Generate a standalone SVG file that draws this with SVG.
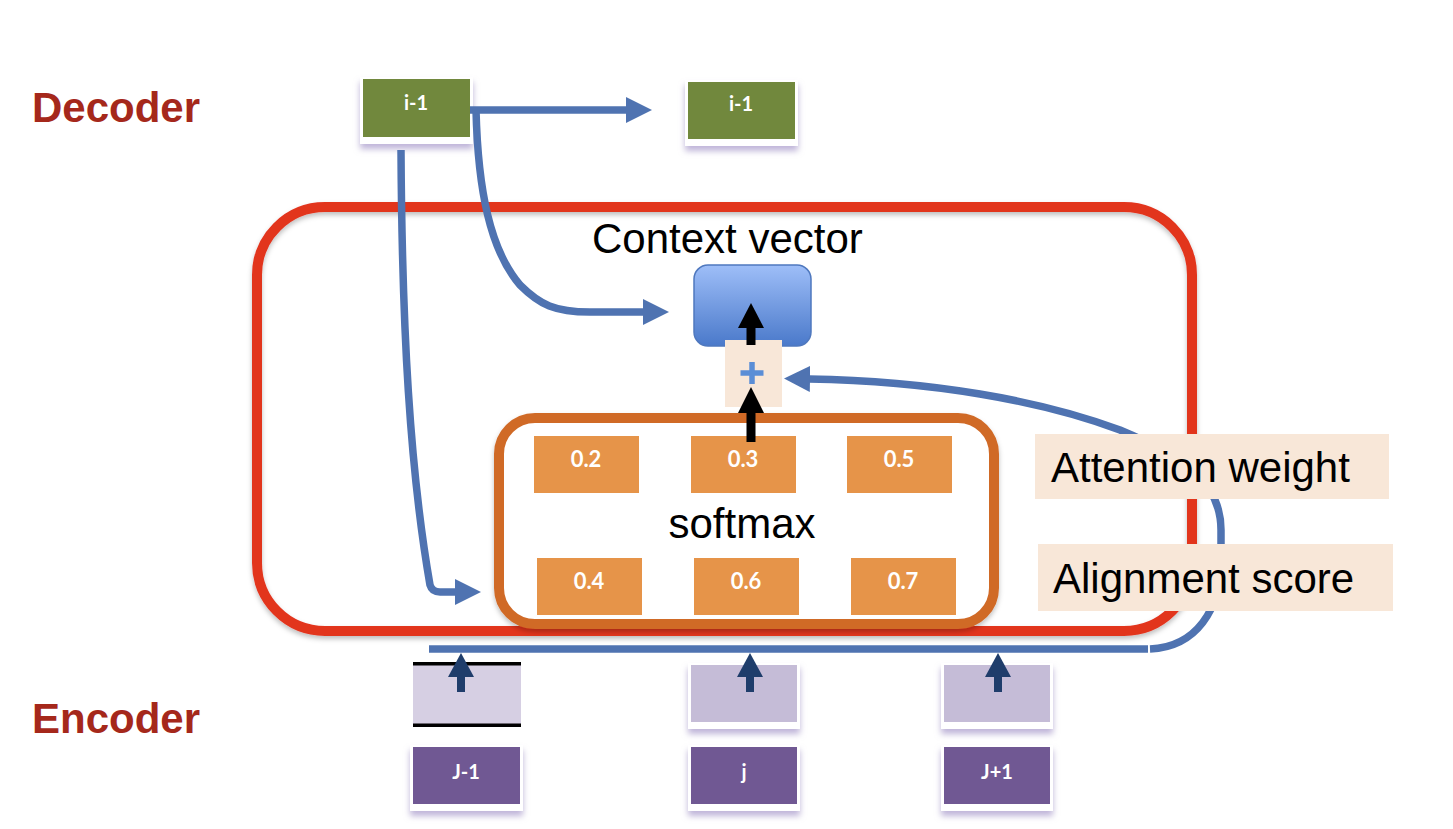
<svg xmlns="http://www.w3.org/2000/svg" width="1453" height="829" viewBox="0 0 1453 829">
  <defs>
    <style>
      .big { font-family: "Liberation Sans", Arial, sans-serif; font-size: 42px; fill: #000; }
      .side { font-family: "Liberation Sans", Arial, sans-serif; font-size: 42px; font-weight: bold; fill: #a5281b; }
      .bx { font-family: Lato, "Open Sans", sans-serif; font-weight: bold; fill: #fff; text-anchor: middle; }
      .blue { fill: none; stroke: #4f73b1; stroke-width: 7.5; }
      .ob { fill: #e69449; }
      .beige { fill: #f8e7d8; }
    </style>
    <filter id="sh" x="-20%" y="-20%" width="140%" height="160%">
      <feDropShadow dx="0" dy="5" stdDeviation="3" flood-color="#a99bcc" flood-opacity="0.75"/>
    </filter>
    <filter id="soft" x="-5%" y="-5%" width="110%" height="115%">
      <feDropShadow dx="0" dy="3" stdDeviation="2.5" flood-color="#000" flood-opacity="0.25"/>
    </filter>
    <linearGradient id="cv" x1="0" y1="0" x2="0" y2="1">
      <stop offset="0" stop-color="#9ebef8"/>
      <stop offset="1" stop-color="#4a79ca"/>
    </linearGradient>
    <marker id="ah" markerUnits="userSpaceOnUse" markerWidth="28" markerHeight="28" refX="1" refY="13" orient="auto">
      <path d="M0,0 L26,13 L0,26 Z" fill="#4f73b1"/>
    </marker>
  </defs>

  <rect width="1453" height="829" fill="#fff"/>

  <text class="side" x="32" y="122">Decoder</text>
  <text class="side" x="32" y="733">Encoder</text>

  <g id="attention-frame" filter="url(#soft)">
    <rect x="257" y="207" width="935" height="424" rx="68" fill="none" stroke="#e2341f" stroke-width="10"/>
  </g>

  <g id="softmax-frame" filter="url(#soft)">
    <rect x="499" y="418" width="495" height="206" rx="36" fill="#fff" stroke="#d06a28" stroke-width="10"/>
  </g>
  <text class="big" x="742" y="538" text-anchor="middle">softmax</text>

  <g id="w02"><rect class="ob" x="534" y="436" width="105" height="57"/><text class="bx" x="586" y="467" font-size="22">0.2</text></g>
  <g id="w03"><rect class="ob" x="691" y="436" width="105" height="57"/><text class="bx" x="743" y="467" font-size="22">0.3</text></g>
  <g id="w05"><rect class="ob" x="847" y="436" width="105" height="57"/><text class="bx" x="899" y="467" font-size="22">0.5</text></g>
  <g id="s04"><rect class="ob" x="537" y="558" width="105" height="57"/><text class="bx" x="589" y="589" font-size="22">0.4</text></g>
  <g id="s06"><rect class="ob" x="694" y="558" width="105" height="57"/><text class="bx" x="746" y="589" font-size="22">0.6</text></g>
  <g id="s07"><rect class="ob" x="851" y="558" width="105" height="57"/><text class="bx" x="903" y="589" font-size="22">0.7</text></g>

  <text class="big" x="592" y="253">Context vector</text>
  <g id="context-vector">
    <rect x="694" y="265" width="117" height="81" rx="14" fill="url(#cv)" stroke="#4f78be" stroke-width="1.5"/>
  </g>
  <g id="sum">
    <rect x="725" y="340" width="57" height="67" class="beige"/>
    <path d="M740.5,373 H763.5 M752,362 V384" stroke="#5b8ed6" stroke-width="5.5" fill="none"/>
  </g>

  <g id="decoder-prev" filter="url(#sh)">
    <rect x="360" y="77" width="113" height="67" fill="#fff"/>
    <rect x="363" y="79" width="107" height="58" fill="#71883d"/>
  </g>
  <text class="bx" x="416" y="110" font-size="20">i-1</text>
  <g id="decoder-next" filter="url(#sh)">
    <rect x="685" y="80" width="113" height="66" fill="#fff"/>
    <rect x="688" y="82" width="107" height="57" fill="#71883d"/>
  </g>
  <text class="bx" x="741" y="111" font-size="20">i-1</text>

  <g id="connectors">
    <path class="blue" d="M470,110 L627,110" marker-end="url(#ah)"/>
    <path class="blue" d="M476,110 C478,190 490,250 520,285 C540,305 555,312 590,312 L644,312" marker-end="url(#ah)"/>
    <path class="blue" d="M401,150 C402,330 410,470 430,585 Q432,592 440,592 L456,592" marker-end="url(#ah)"/>
    <path class="blue" d="M429,649 L1148,649"/>
    <path class="blue" d="M1150,649 C1196,647 1221,610 1221,560 L1221,530 C1221,480 1180,455 1120,430 C1040,400 930,381 809,379" marker-end="url(#ah)"/>
    <g fill="#000">
      <path d="M738,328 L751,303 L764,328 Z"/>
      <rect x="746.5" y="326" width="9" height="19"/>
      <path d="M738,413 L751,387 L764,413 Z"/>
      <rect x="746.5" y="411" width="9" height="31"/>
    </g>
  </g>

  <g id="label-attention">
    <rect x="1035" y="434" width="354" height="65" class="beige"/>
    <text class="big" x="1051" y="482">Attention weight</text>
  </g>
  <g id="label-alignment">
    <rect x="1038" y="544" width="355" height="67" class="beige"/>
    <text class="big" x="1053" y="593">Alignment score</text>
  </g>

  <g id="enc-state-jm1">
    <rect x="413" y="662" width="108" height="65" fill="#d6cfe3"/>
    <rect x="413" y="662" width="108" height="3.5" fill="#000"/>
    <rect x="413" y="723.5" width="108" height="3.5" fill="#000"/>
  </g>
  <g id="enc-state-j" filter="url(#sh)">
    <rect x="688" y="663" width="112" height="66" fill="#fff"/>
    <rect x="691" y="665" width="106" height="57" fill="#c5bcd7"/>
  </g>
  <g id="enc-state-jp1" filter="url(#sh)">
    <rect x="941" y="663" width="112" height="66" fill="#fff"/>
    <rect x="944" y="665" width="106" height="57" fill="#c5bcd7"/>
  </g>

  <g id="enc-arrows" fill="#1f3d6b">
    <path d="M448,677 L461,653 L474,677 Z"/><rect x="457" y="675" width="8" height="17"/>
    <path d="M737,677 L750,653 L763,677 Z"/><rect x="746" y="675" width="8" height="17"/>
    <path d="M985,677 L998,653 L1011,677 Z"/><rect x="994" y="675" width="8" height="17"/>
  </g>

  <g id="enc-jm1" filter="url(#sh)">
    <rect x="410" y="745" width="113" height="66" fill="#fff"/>
    <rect x="413" y="747" width="107" height="57" fill="#6f5893"/>
  </g>
  <text class="bx" x="466" y="779" font-size="20">J-1</text>
  <g id="enc-j" filter="url(#sh)">
    <rect x="688" y="745" width="112" height="66" fill="#fff"/>
    <rect x="691" y="747" width="106" height="57" fill="#6f5893"/>
  </g>
  <text class="bx" x="744" y="779" font-size="20">j</text>
  <g id="enc-jp1" filter="url(#sh)">
    <rect x="941" y="745" width="112" height="66" fill="#fff"/>
    <rect x="944" y="747" width="106" height="57" fill="#6f5893"/>
  </g>
  <text class="bx" x="997" y="779" font-size="20">J+1</text>
</svg>
